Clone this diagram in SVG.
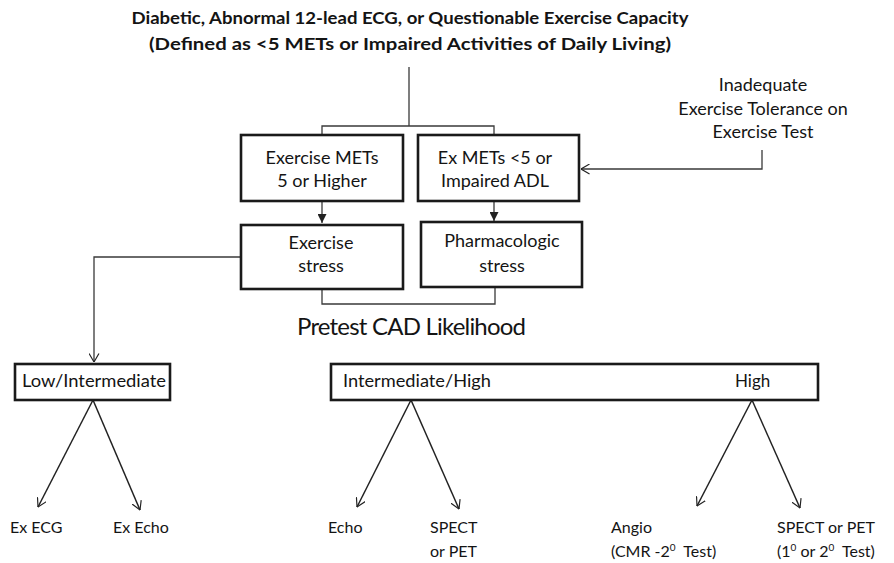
<svg xmlns="http://www.w3.org/2000/svg" width="894" height="563" viewBox="0 0 894 563">
  <style>
    .box { fill: #ffffff; stroke: #1a1a1a; stroke-width: 2.6; }
    .wire { fill: none; stroke: #3a3a3a; stroke-width: 1.3; }
    .arw { fill: none; stroke: #222222; stroke-width: 1.5; }
    text { font-family: Lato, "Open Sans", "Liberation Sans", sans-serif; fill: #141414; }
    .title { font-size: 17px; font-weight: bold; text-anchor: middle; }
    .lbl { font-size: 18px; text-anchor: middle; }
    .sm { font-size: 16px; }
    .mid { font-size: 17px; }
    .big { font-size: 24px; }
    .pre { white-space: pre; }
  </style>
  <defs>
    <marker id="solid" viewBox="0 0 10 10" refX="10" refY="5" markerWidth="9" markerHeight="9" markerUnits="userSpaceOnUse" orient="auto">
      <path d="M0,0 L10,5 L0,10 Z" fill="#222222"/>
    </marker>
    <marker id="open" viewBox="0 0 10 12" refX="9.5" refY="6" markerWidth="9" markerHeight="11" markerUnits="userSpaceOnUse" orient="auto">
      <path d="M0,0.5 L9.5,6 L0,11.5" fill="none" stroke="#222222" stroke-width="1.3"/>
    </marker>
  </defs>

  <!-- heading -->
  <g id="heading">
    <text class="title" x="410" y="24" textLength="557" lengthAdjust="spacingAndGlyphs">Diabetic, Abnormal 12-lead ECG, or Questionable Exercise Capacity</text>
    <text class="title" x="410" y="50" textLength="522" lengthAdjust="spacingAndGlyphs">(Defined as &lt;5 METs or Impaired Activities of Daily Living)</text>
  </g>

  <!-- connectors -->
  <g id="connectors">
    <path class="wire" d="M409,67 V126 M322,135 V126 H494 V135"/>
    <line class="wire" x1="322" y1="201" x2="322" y2="223" marker-end="url(#solid)"/>
    <line class="wire" x1="494" y1="201" x2="494" y2="221" marker-end="url(#solid)"/>
    <path class="wire" d="M762,150 V169 H581" marker-end="url(#open)"/>
    <path class="wire" d="M241,257 H94 V362" marker-end="url(#open)"/>
    <path class="wire" d="M322,289 V304 H495 V287"/>
    <line class="arw" x1="93" y1="400" x2="38" y2="507" marker-end="url(#open)"/>
    <line class="arw" x1="93" y1="400" x2="140" y2="510" marker-end="url(#open)"/>
    <line class="arw" x1="411" y1="400" x2="357" y2="507" marker-end="url(#open)"/>
    <line class="arw" x1="411" y1="400" x2="459" y2="509" marker-end="url(#open)"/>
    <line class="arw" x1="752" y1="400" x2="697" y2="506" marker-end="url(#open)"/>
    <line class="arw" x1="752" y1="400" x2="800" y2="508" marker-end="url(#open)"/>
  </g>

  <g id="ex-mets-high">
    <rect class="box" x="241" y="135" width="162" height="66"/>
    <text class="lbl" x="322" y="164">Exercise METs</text>
    <text class="lbl" x="322" y="187">5 or Higher</text>
  </g>

  <g id="ex-mets-low">
    <rect class="box" x="418" y="135" width="161" height="66"/>
    <text class="lbl" x="495" y="164">Ex METs &lt;5 or</text>
    <text class="lbl" x="495" y="187">Impaired ADL</text>
  </g>

  <g id="inadequate">
    <text class="lbl" x="763" y="91">Inadequate</text>
    <text class="lbl" x="763" y="114.5">Exercise Tolerance on</text>
    <text class="lbl" x="763" y="138">Exercise Test</text>
  </g>

  <g id="exercise-stress">
    <rect class="box" x="241" y="225" width="162" height="64"/>
    <text class="lbl" x="321" y="249">Exercise</text>
    <text class="lbl" x="321" y="272">stress</text>
  </g>

  <g id="pharm-stress">
    <rect class="box" x="421" y="222" width="161" height="65"/>
    <text class="lbl" x="502" y="247">Pharmacologic</text>
    <text class="lbl" x="502" y="272">stress</text>
  </g>

  <g id="pretest">
    <text class="big" x="297" y="335" textLength="229">Pretest CAD Likelihood</text>
  </g>

  <g id="low-int">
    <rect class="box" x="15" y="364" width="155" height="36"/>
    <text class="mid" x="22" y="387" textLength="144" lengthAdjust="spacingAndGlyphs">Low/Intermediate</text>
  </g>

  <g id="int-high">
    <rect class="box" x="331" y="364" width="487" height="36"/>
    <text class="mid" x="343" y="387" textLength="148" lengthAdjust="spacingAndGlyphs">Intermediate/High</text>
    <text class="mid" x="735" y="387">High</text>
  </g>

  <g id="ex-ecg"><text class="sm" x="10" y="533">Ex ECG</text></g>
  <g id="ex-echo"><text class="sm" x="113" y="533">Ex Echo</text></g>
  <g id="echo"><text class="sm" x="328" y="533">Echo</text></g>
  <g id="spect-pet">
    <text class="sm" x="430" y="533">SPECT</text>
    <text class="sm" x="430" y="557">or PET</text>
  </g>
  <g id="angio">
    <text class="sm" x="611" y="533">Angio</text>
    <text class="sm pre" x="611" y="557">(CMR -2<tspan font-size="10" dy="-6">0</tspan><tspan dy="6">  Test)</tspan></text>
  </g>
  <g id="spect-pet-2">
    <text class="sm" x="777" y="533">SPECT or PET</text>
    <text class="sm pre" x="777" y="557">(1<tspan font-size="10" dy="-6">0</tspan><tspan dy="6"> or 2</tspan><tspan font-size="10" dy="-6">0</tspan><tspan dy="6">  Test)</tspan></text>
  </g>
</svg>
